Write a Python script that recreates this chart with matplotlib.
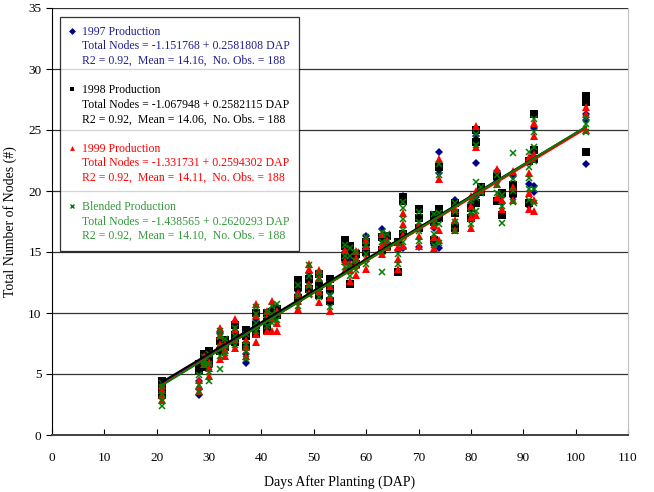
import matplotlib
matplotlib.use("Agg")
import matplotlib.pyplot as plt
import numpy as np
from matplotlib.lines import Line2D

plt.rcParams["font.family"] = ["Liberation Serif", "DejaVu Serif"]

# sampling dates (days after planting) where the plants were counted
DAP_GROUPS = [21, 28, 29, 30, 32, 33, 35, 37, 39, 41, 42, 43, 47, 49, 51, 53,
              56, 57, 58, 60, 63, 64, 66, 67, 70, 73, 74, 77, 80, 81, 82, 85,
              86, 88, 91, 92, 102]

NODES_1997 = [
    [3.0, 3.5, 3.9], [3.3, 3.8, 4.4], [5.9, 6.3], [5.6, 6.4], [6.8, 7.6, 8.4],
    [7.0, 7.6], [8.4, 9.3], [5.9, 6.6], [8.6, 9.4], [9.0, 9.6], [9.8, 10.3],
    [9.8, 10.5], [11.0, 11.8], [12.6, 13.3], [12.0, 12.6], [10.8, 11.6],
    [14.2, 15.0], [13.6, 14.4], [13.8, 14.6], [15.4, 16.3], [16.0, 16.9],
    [15.6], [15.2], [15.3, 19.6], [15.4, 17.8], [15.6, 17.0], [21.5, 23.2, 15.3],
    [17.4, 19.3], [18.0, 19.0], [22.3, 24.5, 19.5], [20.0], [20.8, 21.6],
    [19.0, 19.6], [19.5, 21.2], [18.8, 20.6], [25.2, 19.9, 20.4],
    [22.2, 25.8, 26.3],
]
NODES_1998 = [
    [3.3, 3.8, 4.2, 4.4], [5.3, 5.8], [5.6, 6.2, 6.6], [5.9, 6.5, 6.9], [6.9, 7.7],
    [7.2, 7.8], [7.6, 8.2, 9.0], [7.3, 8.1, 8.6], [8.3, 9.0, 10.0],
    [8.6, 9.3, 10.0], [9.6, 10.1], [9.8, 10.3], [11.2, 12.1, 12.7], [12.0, 12.8],
    [11.5, 12.2, 13.2], [11.0, 12.0, 12.8], [14.6, 15.5, 16.0],
    [12.4, 14.8, 15.5], [14.0, 14.8], [15.0, 15.8], [15.2, 16.2], [15.5, 16.3],
    [13.4, 15.8], [16.5, 19.2, 19.5], [17.0, 17.8, 18.5], [16.0, 17.5, 18.0],
    [22.0, 17.8, 18.5], [17.0, 18.2, 19.0], [17.8, 18.6], [24.0, 25.0, 19.0],
    [19.9, 20.3], [19.2, 21.2], [18.0, 19.8], [19.8, 20.5], [19.0, 22.5],
    [26.3, 22.6, 23.4], [23.2, 27.3, 27.8],
]
NODES_1999 = [
    [2.9, 3.3, 3.7, 4.1], [3.6, 4.0, 4.5], [5.8, 6.1, 6.5], [4.8, 5.5, 6.0],
    [6.2, 7.5, 8.2, 8.8], [6.5, 7.0, 7.5], [7.1, 7.9, 8.7, 9.5], [6.5, 7.2, 7.8],
    [7.6, 8.3, 9.8, 10.7], [8.5, 9.6, 10.2], [8.5, 9.6, 11.0], [8.5, 9.2, 10.2],
    [10.3, 11.0, 11.6], [11.6, 12.4, 13.6, 14.0], [10.9, 11.8, 12.9, 13.5],
    [10.2, 11.3, 12.2], [13.5, 14.3, 15.2], [12.6, 13.5, 14.0],
    [13.1, 13.9, 14.5, 15.1], [13.6, 14.5, 15.5, 16.0], [14.8, 15.6, 16.5],
    [15.4, 16.0], [13.6, 14.4, 15.4], [15.5, 16.4, 17.3, 18.2], [15.5, 16.3, 17.2],
    [15.3, 16.2, 17.2], [21.0, 22.6, 16.0, 16.8], [16.8, 17.6, 18.5],
    [17.0, 17.9, 18.8, 19.6], [23.6, 25.3, 18.0, 20.0], [20.1],
    [19.5, 20.6, 21.8], [18.5, 19.3], [19.3, 20.3, 21.6], [18.5, 19.8, 21.5, 22.8],
    [24.5, 25.6, 23.0, 18.4, 19.3], [25.0, 26.3, 26.9],
]
NODES_BLEND = [
    [2.4, 2.9, 3.4, 3.9, 4.3], [3.5, 4.1, 4.9], [5.7, 6.0, 6.4], [4.4, 5.2, 5.8, 6.6],
    [5.4, 6.5, 7.2, 8.0, 8.5], [6.7, 7.3, 7.9], [7.4, 8.1, 8.8], [6.2, 6.9, 7.5, 8.3],
    [8.5, 9.2, 9.9, 10.5], [8.9, 9.5, 10.1], [9.2, 9.9, 10.6], [9.4, 10.0, 10.7],
    [10.6, 11.4, 12.3], [11.5, 12.2, 13.0, 13.9], [11.3, 12.0, 12.8, 13.3],
    [10.5, 11.5, 12.4], [13.8, 14.7, 15.6], [13.0, 13.9, 14.7, 15.3],
    [13.5, 14.3, 15.0], [14.0, 14.8, 15.6, 16.2], [13.4, 15.0, 15.8, 16.6],
    [15.3, 15.8, 16.5], [14.0, 14.8, 15.7], [15.8, 16.8, 17.7, 18.6, 19.1],
    [15.9, 16.7, 17.5, 18.3], [15.6, 16.5, 17.4, 18.1],
    [21.3, 22.2, 15.7, 17.3, 18.2], [16.7, 17.5, 18.3, 19.0], [17.3, 18.2, 19.2],
    [23.8, 24.7, 18.4, 19.4, 20.7], [19.8, 20.3], [19.8, 20.5, 21.3],
    [17.4, 18.8, 19.7], [19.1, 20.0, 21.0, 23.1], [19.3, 20.2, 21.1, 22.0, 23.2],
    [24.8, 25.9, 22.5, 23.6, 19.0, 20.2], [24.8, 25.5, 26.0],
]

SERIES_NAMES = ["1997 Production", "1998 Production", "1999 Production",
                "Blended Production"]
INTERCEPTS = [-1.151768, -1.067948, -1.331731, -1.438565]
SLOPES = [0.2581808, 0.2582115, 0.2594302, 0.2620293]
MEANS = [14.16, 14.06, 14.11, 14.10]
R2 = [0.92, 0.92, 0.92, 0.92]
N_OBS = [188, 188, 188, 188]
LINE_DAP = [21, 102]

MARKER_COLORS = ["#00008b", "#000000", "#ff0000", "#008000"]
TEXT_COLORS = ["#1f1f8f", "#000000", "#ff0000", "#33993a"]
MARKERS = ["D", "s", "^", "x"]
MARKER_SIZES = [4.0, 5.4, 5.6, 5.0]


def flatten(groups):
    xs, ys = [], []
    for dap, vals in zip(DAP_GROUPS, groups):
        xs.extend([dap] * len(vals))
        ys.extend(vals)
    return np.array(xs), np.array(ys)


fig = plt.figure(figsize=(6.54, 4.92), dpi=100)
ax = fig.add_axes([52 / 654, 57 / 492, 576 / 654, 427 / 492])

all_nodes = [NODES_1997, NODES_1998, NODES_1999, NODES_BLEND]
for i, groups in enumerate(all_nodes):
    x, y = flatten(groups)
    if MARKERS[i] == "x":
        ax.plot(x, y, linestyle="none", marker="x", ms=MARKER_SIZES[i],
                mew=1.1, color=MARKER_COLORS[i], zorder=3 + i)
    else:
        ax.plot(x, y, linestyle="none", marker=MARKERS[i], ms=MARKER_SIZES[i],
                mew=0, color=MARKER_COLORS[i], zorder=3 + i)

line_x = np.array(LINE_DAP)
for i in range(4):
    ax.plot(line_x, INTERCEPTS[i] + SLOPES[i] * line_x, color=MARKER_COLORS[i],
            lw=1.3, zorder=8)

ax.set_xlim(0, 110)
ax.set_ylim(0, 35)
ax.set_xticks(np.arange(0, 111, 10))
ax.set_yticks(np.arange(0, 36, 5))
ax.grid(axis="y", color="#333333", lw=0.9)
ax.set_axisbelow(True)
ax.spines["top"].set_visible(False)
ax.spines["right"].set_color("#c0c0c0")
ax.spines["left"].set_color("#000000")
ax.spines["bottom"].set_color("#404040")
ax.spines["bottom"].set_linewidth(1.4)
ax.tick_params(axis="x", direction="in", length=4, labelsize=9.5, pad=12)
ax.tick_params(axis="y", direction="out", length=4, labelsize=9.5)
ax.set_xlabel("Days After Planting (DAP)", fontsize=10, labelpad=8)
ax.set_ylabel("Total Number of Nodes (#)", fontsize=10, labelpad=8)

# legend: one row per text line, marker only on the first line of each block
handles, labels, colors = [], [], []
blank = Line2D([], [], linestyle="none", marker=None)
for i in range(4):
    mk = Line2D([], [], linestyle="none", marker=MARKERS[i], color=MARKER_COLORS[i],
                ms=3.5, mew=1.0 if MARKERS[i] == "x" else 0)
    handles += [mk, blank, blank]
    labels += [SERIES_NAMES[i],
               f"Total Nodes = {INTERCEPTS[i]:.6f} + {SLOPES[i]:.7f} DAP",
               f"R2 = {R2[i]:.2f},  Mean = {MEANS[i]:.2f},  No. Obs. = {N_OBS[i]}"]
    colors += [TEXT_COLORS[i]] * 3
    if i < 3:
        handles.append(blank)
        labels.append(" ")
        colors.append("black")

leg = ax.legend(handles, labels, loc="upper left",
                bbox_to_anchor=(8 / 576, 418 / 427), borderaxespad=0,
                fontsize=8.5, frameon=True, fancybox=False, handlelength=0.6,
                handletextpad=0.5, labelspacing=0.22, borderpad=0.75)
leg.get_frame().set_edgecolor("#000000")
leg.get_frame().set_linewidth(0.9)
for txt, c in zip(leg.get_texts(), colors):
    txt.set_color(c)
leg.set_zorder(10)

fig.savefig("out.png", dpi=100, facecolor="white")
